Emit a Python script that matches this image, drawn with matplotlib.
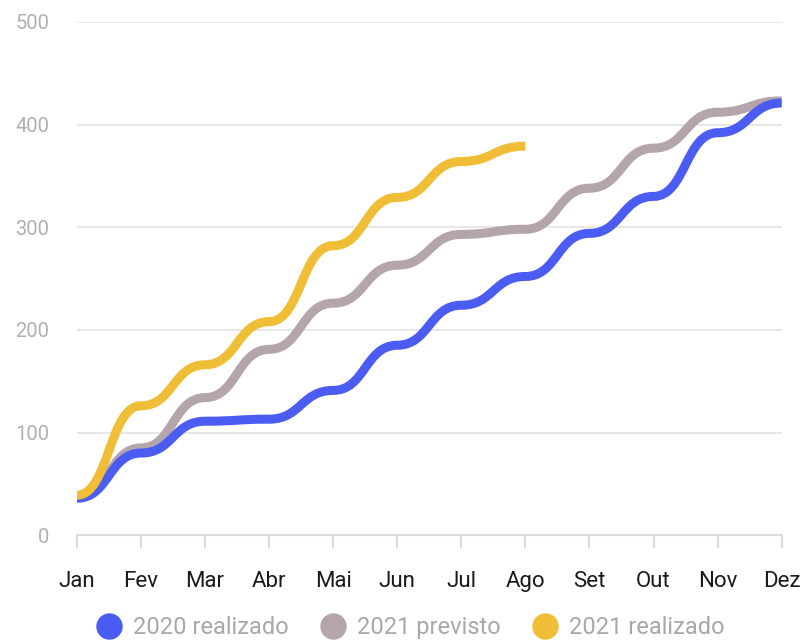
import matplotlib.pyplot as plt
from matplotlib.path import Path
from matplotlib.patches import PathPatch
from matplotlib.lines import Line2D

meses = ["Jan", "Fev", "Mar", "Abr", "Mai", "Jun", "Jul", "Ago", "Set", "Out", "Nov", "Dez"]
realizado_2020 = [36, 80, 111, 113, 141, 185, 224, 252, 294, 330, 392, 421]
previsto_2021 = [37, 85, 134, 181, 226, 263, 293, 298, 338, 377, 412, 423]
realizado_2021 = [39, 126, 166, 208, 282, 329, 364, 379]

series = [
    ("2021 previsto", previsto_2021, "#b4a5ad"),
    ("2020 realizado", realizado_2020, "#4b5cf2"),
    ("2021 realizado", realizado_2021, "#f0bd36"),
]


def bump_path(ys):
    # curva suave com tangente horizontal em cada ponto (tipo curveBumpX)
    xs = list(range(len(ys)))
    verts = [(xs[0], ys[0])]
    codes = [Path.MOVETO]
    for i in range(1, len(ys)):
        xm = (xs[i - 1] + xs[i]) / 2
        verts += [(xm, ys[i - 1]), (xm, ys[i]), (xs[i], ys[i])]
        codes += [Path.CURVE4] * 3
    return Path(verts, codes)


fig = plt.figure(figsize=(8.1, 6.44), dpi=100)
ax = fig.add_axes([0.095, 0.169, 0.87, 0.797])

for nome, valores, cor in series:
    patch = PathPatch(bump_path(valores), facecolor="none", edgecolor=cor,
                      lw=6.5, capstyle="butt", joinstyle="round", zorder=3)
    ax.add_patch(patch)

ax.set_xlim(0, len(meses) - 1)
ax.set_ylim(0, 500)
ax.set_xticks(range(len(meses)))
ax.set_xticklabels(meses)
ax.set_yticks([0, 100, 200, 300, 400, 500])

ax.grid(axis="y", color="#e3e3e3", lw=1.2)
ax.set_axisbelow(True)
for s in ["top", "right", "left"]:
    ax.spines[s].set_visible(False)
ax.spines["bottom"].set_color("#dcdcdc")
ax.spines["bottom"].set_linewidth(1.5)

ax.tick_params(axis="x", colors="#dcdcdc", length=9, width=1.5, pad=17,
               labelcolor="#1a1a1a", labelsize=16)
ax.tick_params(axis="y", length=0, pad=20, labelcolor="#b0b0b0", labelsize=14.5)
for lbl in ax.get_xticklabels() + ax.get_yticklabels():
    lbl.set_family("Roboto")

ordem = [series[1], series[0], series[2]]
handles = [Line2D([], [], ls="none", marker="o", markersize=18,
                  markerfacecolor=c, markeredgecolor=c) for _, _, c in ordem]
leg = fig.legend(handles, [n for n, _, _ in ordem], loc="lower center",
                 bbox_to_anchor=(0.5, -0.025), ncol=3, frameon=False,
                 handletextpad=0.0, columnspacing=0.9,
                 prop={"family": "Roboto", "size": 17})
for t in leg.get_texts():
    t.set_color("#a8a8a8")

fig.savefig("out.png", dpi=100, facecolor="white")
